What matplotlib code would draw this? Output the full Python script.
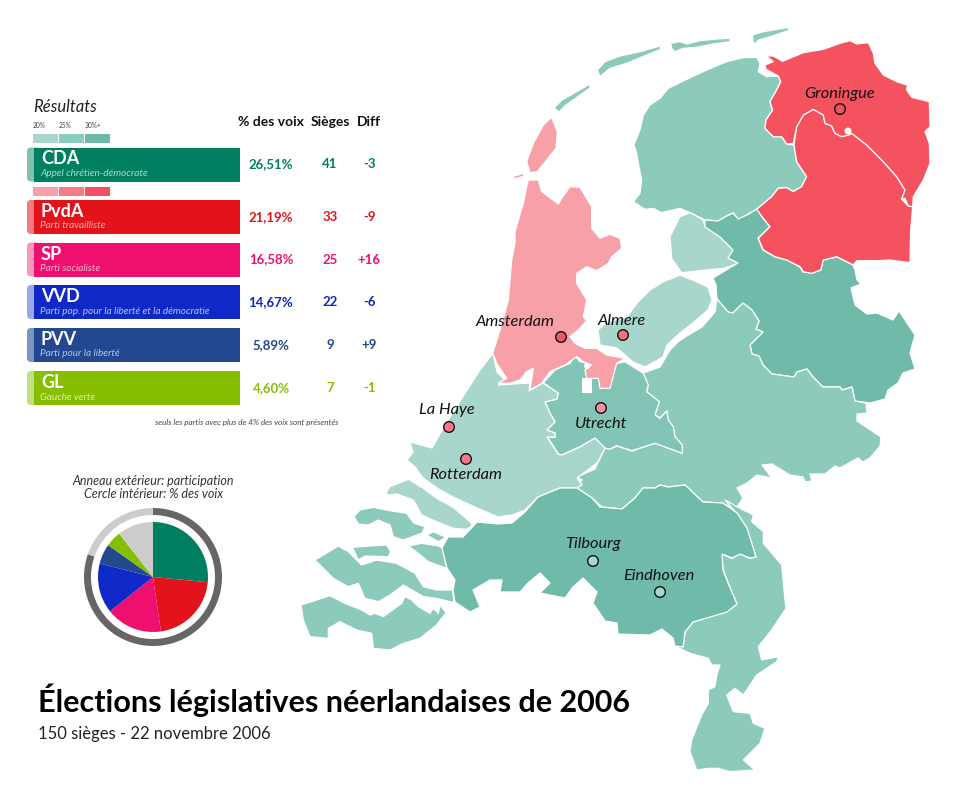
import matplotlib
matplotlib.use("Agg")
import matplotlib.pyplot as plt
from matplotlib.patches import Polygon, FancyBboxPatch, Circle, Rectangle

plt.rcParams["font.family"] = ["Lato", "DejaVu Sans"]

# party table
parties = ["CDA", "PvdA", "SP", "VVD", "PVV", "GL"]
party_names = ["Appel chrétien-démocrate", "Parti travailliste", "Parti socialiste",
               "Parti pop. pour la liberté et la démocratie", "Parti pour la liberté", "Gauche verte"]
vote_labels = ["26,51%", "21,19%", "16,58%", "14,67%", "5,89%", "4,60%"]
seats = ["41", "33", "25", "22", "9", "7"]
diffs = ["-3", "-9", "+16", "-6", "+9", "-1"]
party_colors = ["#007f60", "#e2131b", "#ef0f6e", "#1028c8", "#24488f", "#86bf00"]
stripe_colors = ["#7fc0ae", "#f27a80", "#f498be", "#9aa8e8", "#7a94c4", "#c3df80"]
sub_colors = ["#a5dccb", "#f8b0b0", "#f9b8d2", "#b8c2f4", "#b5c6e6", "#dcefa0"]
row_centers = [164.5, 217, 259.5, 302, 345, 388]

# pie and ring
vote_share = [26.51, 21.19, 16.58, 14.67, 5.89, 4.60, 10.56]
pie_colors = party_colors + ["#cccccc"]
turnout = [80.35, 19.65]

# colour scales
scale_labels = ["20%", "25%", "30%+"]
green_scale = ["#a9d6cc", "#8accbd", "#6fb9a9"]
red_scale = ["#f8a0a8", "#f57a85", "#f2525f"]

# cities: name, x, y, marker fill, label x, label y
cities = ["Groningue", "Amsterdam", "Almere", "La Haye", "Rotterdam", "Utrecht", "Tilbourg", "Eindhoven"]
city_x = [840, 561, 623, 449, 466, 601, 593, 660]
city_y = [109, 337, 335, 427, 459, 408, 561, 592]
city_fill = ["#f2525f", "#e85a6c", "#f0707d", "#fb7a8a", "#fb7a8a", "#f7919e", "#a9d6cc", "#a9d6cc"]
label_x = [840, 515, 622, 447, 466, 601, 593, 659]
label_y = [94, 322, 321, 410, 475, 424, 544, 576]


def from_zoom(ox, oy, pts):
    # outlines were read on 3x crops of the map
    return [(ox + x / 3, oy + y / 3) for x, y in pts]


GREEN_LIGHT = "#a9d6cc"
GREEN_MID = "#8ccabb"
GREEN_UTR = "#82c4b5"
GREEN_DARK = "#6fbaa9"
RED_LIGHT = "#f8a0a8"
RED_DARK = "#f4525f"

groningen = from_zoom(590, 20, [
    (528, 108), (550, 108), (578, 124), (640, 98), (700, 88), (750, 70), (780, 62), (800, 72), (835, 68),
    (850, 100), (855, 130), (880, 165), (920, 185), (950, 195), (955, 182), (950, 210), (965, 232), (1018, 245),
    (1020, 320), (1005, 335), (1018, 370), (1020, 430), (1000, 480), (970, 530), (968, 560), (955, 558),
    (945, 535), (935, 538), (945, 510), (920, 470), (880, 425), (830, 375), (785, 340), (775, 345), (755, 350),
    (735, 340), (725, 318), (705, 310), (700, 285), (670, 268), (640, 285), (620, 320), (610, 370), (590, 372),
    (575, 350), (550, 350), (525, 325), (528, 300), (548, 270), (540, 245), (560, 210), (572, 185), (565, 168),
    (528, 148), (525, 135), (550, 125)])
drenthe = from_zoom(590, 20, [
    (670, 268), (700, 285), (705, 310), (725, 318), (735, 340), (755, 350), (775, 345), (785, 340), (830, 375),
    (880, 425), (920, 470), (945, 510), (935, 538), (955, 558), (968, 560), (962, 630), (960, 728), (900, 720),
    (860, 722), (800, 722), (790, 735), (740, 710), (700, 720), (692, 750), (665, 760), (640, 755), (630, 740),
    (590, 720), (555, 710), (520, 690), (505, 655), (540, 620), (520, 595), (500, 568), (545, 530), (565, 505),
    (590, 503), (610, 515), (635, 500), (650, 470), (620, 425), (612, 375), (620, 320), (640, 285)])
friesland = from_zoom(590, 20, [
    (500, 112), (510, 130), (505, 155), (530, 170), (565, 168), (572, 185), (560, 210), (540, 245), (548, 270),
    (528, 300), (525, 325), (550, 350), (575, 350), (590, 372), (612, 375), (620, 425), (650, 470), (635, 500),
    (610, 515), (590, 503), (565, 505), (545, 530), (500, 568), (470, 585), (445, 598), (430, 578), (405, 590),
    (385, 603), (345, 600), (300, 578), (270, 565), (215, 578), (190, 565), (165, 568), (130, 545), (150, 520),
    (155, 480), (145, 430), (140, 400), (132, 375), (150, 330), (160, 285), (180, 255), (210, 235), (235, 205),
    (290, 178), (350, 150), (410, 125), (460, 113)])
terschelling = from_zoom(590, 20, [(22, 150), (45, 125), (90, 108), (150, 95), (210, 78), (212, 88), (170, 105),
                                   (110, 130), (60, 145), (30, 170)])
ameland = from_zoom(590, 20, [(242, 70), (270, 65), (290, 72), (330, 62), (380, 57), (420, 55), (420, 65),
                              (370, 72), (320, 82), (280, 85), (255, 95), (245, 85)])
schier = from_zoom(590, 20, [(487, 45), (520, 35), (598, 22), (595, 32), (540, 50), (505, 60), (492, 75)])
vlieland = [(554, 108), (562, 100), (590, 84), (590, 88), (566, 105), (559, 112)]
nop = from_zoom(590, 20, [(270, 590), (300, 578), (340, 600), (345, 620), (390, 650), (430, 690), (415, 715),
                          (445, 730), (400, 745), (330, 752), (275, 758), (245, 715), (240, 650)])
overijssel = [
    (705, 220), (718, 221), (725, 217), (733, 213), (738, 219), (747, 215), (757, 209), (763, 218), (770, 227),
    (758, 238), (763, 250), (775, 257), (787, 260), (800, 267), (803, 272), (812, 273), (821, 270), (823, 260),
    (837, 257), (853, 265), (855, 270), (857, 280), (861, 284), (851, 288), (855, 305), (867, 314), (877, 313),
    (893, 320), (899, 311), (907, 323), (915, 335), (910, 353), (915, 369), (903, 373), (898, 383), (888, 390),
    (885, 399), (870, 403), (855, 401), (852, 387), (842, 390), (840, 387), (823, 387), (813, 377), (807, 369),
    (797, 372), (794, 377), (772, 374), (763, 365), (759, 356), (752, 354), (750, 345), (763, 332), (756, 329),
    (759, 321), (752, 310), (743, 303), (733, 313), (728, 312), (717, 299), (716, 285), (713, 278), (738, 263),
    (728, 258), (733, 250), (720, 237), (705, 227)]
gelderland = [
    (717, 299), (728, 312), (733, 313), (743, 303), (752, 310), (759, 321), (756, 329), (763, 332), (750, 345),
    (752, 354), (759, 356), (763, 365), (772, 374), (794, 377), (797, 372), (807, 369), (813, 377), (823, 387),
    (840, 387), (842, 390), (852, 387), (855, 401), (866, 403), (867, 413), (857, 414), (857, 421), (881, 437),
    (880, 446), (870, 458), (863, 462), (858, 458), (840, 468), (835, 466), (825, 474), (810, 474), (812, 481),
    (805, 482), (803, 477), (790, 475), (772, 464), (762, 465), (772, 478), (757, 475), (747, 483), (737, 488),
    (743, 498), (737, 507), (725, 505), (723, 503), (703, 502), (685, 485), (668, 487), (660, 485), (655, 488),
    (643, 488), (635, 498), (622, 509), (602, 507), (592, 498), (577, 488), (582, 480), (577, 477), (595, 469),
    (605, 448), (610, 449), (617, 446), (632, 451), (655, 443), (682, 453), (682, 445), (675, 437), (673, 427),
    (668, 420), (667, 411), (660, 418), (655, 415), (659, 402), (647, 392), (648, 385), (643, 373), (660, 367),
    (670, 350), (678, 342), (685, 337), (702, 327), (715, 312)]
flevoland = [(598, 330), (607, 322), (627, 317), (637, 303), (650, 290), (663, 282), (680, 275), (697, 282),
             (708, 287), (712, 300), (708, 310), (693, 323), (680, 333), (667, 345), (663, 357), (645, 367),
             (633, 362), (617, 348), (600, 345)]
noord_holland = from_zoom(400, 100, [
    (385, 240), (415, 240), (425, 275), (475, 312), (485, 295), (510, 260), (540, 262), (575, 320), (575, 385),
    (600, 415), (630, 403), (660, 415), (665, 445), (635, 470), (625, 490), (590, 512), (560, 500), (530, 520),
    (530, 550), (560, 600), (550, 650), (560, 662), (540, 685), (510, 710), (525, 730), (555, 745), (590, 745),
    (620, 765), (675, 775), (650, 790), (630, 865), (600, 865), (595, 835), (560, 835), (555, 810), (575, 795),
    (550, 785), (530, 770), (495, 795), (450, 815), (425, 850), (390, 870), (400, 805), (380, 815), (360, 840),
    (330, 850), (295, 850), (320, 835), (290, 790), (278, 760), (300, 690), (325, 600), (335, 480), (345, 430),
    (345, 395), (370, 310), (380, 260)])
texel = from_zoom(400, 100, [(455, 52), (472, 95), (468, 145), (440, 180), (412, 215), (390, 218), (380, 185),
                             (400, 130), (430, 75)])
vlie_small = from_zoom(400, 100, [(338, 230), (370, 220), (372, 228), (345, 237)])
utrecht = from_zoom(520, 350, [
    (70, 98), (105, 60), (150, 40), (165, 18), (180, 35), (200, 40), (250, 50), (315, 35), (370, 70), (385, 105),
    (380, 125), (418, 155), (405, 195), (420, 205), (440, 183), (445, 210), (460, 230), (465, 260), (487, 285),
    (487, 310), (405, 280), (335, 302), (290, 287), (270, 297), (255, 295), (225, 265), (180, 290), (125, 315),
    (115, 312), (82, 260), (105, 262), (105, 250), (80, 240), (105, 215), (90, 190), (75, 155), (110, 148),
    (115, 130)])
zuid_holland = [
    (493, 353), (497, 372), (507, 382), (498, 385), (530, 383), (529, 391), (543, 383), (558, 393), (557, 399),
    (545, 402), (550, 413), (555, 422), (547, 430), (555, 433), (555, 437), (547, 437), (558, 454), (562, 455),
    (580, 447), (595, 438), (605, 448), (598, 462), (588, 470), (577, 478), (582, 485), (577, 488), (560, 488),
    (538, 497), (525, 510), (512, 515), (498, 517), (477, 508), (453, 497), (437, 488), (423, 478), (415, 467),
    (407, 460), (413, 452), (410, 442), (432, 448), (445, 425), (480, 370)]
goeree = from_zoom(290, 420, [(288, 218), (300, 200), (355, 178), (400, 205), (440, 235), (490, 262), (545, 310),
                              (545, 318), (530, 328), (490, 325), (440, 305), (395, 285), (370, 240), (320, 222),
                              (295, 225)])
schouwen = from_zoom(290, 420, [(192, 290), (210, 270), (250, 262), (300, 272), (350, 280), (372, 310), (405, 320),
                                (395, 340), (340, 360), (310, 350), (300, 315), (265, 300), (235, 315), (205, 312)])
tholen = from_zoom(290, 420, [(410, 345), (430, 335), (468, 352), (445, 365)])
philips = from_zoom(290, 420, [(355, 378), (395, 370), (445, 378), (458, 385), (470, 445), (415, 425), (385, 400)])
noord_bev = from_zoom(290, 420, [(187, 382), (240, 378), (290, 375), (302, 395), (295, 410), (225, 408), (205, 420)])
walcheren = from_zoom(290, 420, [
    (75, 420), (145, 378), (175, 395), (215, 435), (260, 420), (320, 430), (375, 460), (400, 500), (440, 510),
    (488, 510), (492, 548), (440, 535), (400, 530), (340, 495), (300, 525), (265, 545), (225, 535), (205, 490),
    (175, 500), (130, 475)])
vlaanderen = from_zoom(290, 420, [
    (33, 555), (120, 527), (160, 548), (215, 570), (240, 585), (255, 580), (280, 590), (335, 550), (345, 530),
    (365, 540), (385, 560), (420, 580), (430, 565), (445, 580), (450, 555), (468, 578), (440, 615), (390, 655),
    (340, 670), (300, 690), (250, 685), (245, 640), (200, 630), (150, 605), (115, 625), (115, 655), (60, 650),
    (40, 600)])
brabant = [
    (477, 522), (498, 524), (512, 523), (525, 512), (538, 497), (560, 488), (577, 488), (592, 498), (600, 507),
    (622, 509), (635, 498), (643, 488), (655, 488), (660, 485), (668, 487), (685, 485), (703, 502), (723, 503),
    (737, 513), (747, 528), (756, 557), (750, 558), (740, 554), (732, 558), (722, 554), (723, 570), (728, 583),
    (737, 604), (727, 612), (693, 622), (685, 632), (683, 647), (675, 646), (673, 638), (662, 629), (650, 635),
    (618, 634), (617, 623), (605, 621), (593, 603), (597, 592), (583, 578), (573, 587), (565, 598), (540, 593),
    (550, 583), (540, 573), (528, 583), (520, 592), (500, 592), (502, 580), (490, 580), (473, 590), (480, 607),
    (470, 612), (455, 602), (453, 590), (455, 580), (447, 568), (442, 548), (448, 537), (463, 537)]
limburg = from_zoom(580, 400, [
    (435, 300), (480, 325), (520, 345), (515, 365), (550, 395), (550, 430), (605, 495), (615, 600), (618, 625),
    (575, 690), (535, 740), (545, 780), (595, 770), (590, 785), (530, 825), (490, 885), (465, 865), (440, 885),
    (460, 935), (510, 940), (520, 970), (555, 985), (540, 1030), (490, 1080), (525, 1110), (450, 1115), (415, 1105),
    (385, 1105), (350, 1110), (330, 1055), (335, 1020), (365, 945), (385, 910), (385, 870), (405, 860), (410, 825),
    (420, 795), (395, 795), (385, 775), (330, 760), (285, 738), (310, 740), (315, 695), (340, 665), (440, 635),
    (470, 612), (445, 550), (430, 510), (425, 462), (455, 475), (480, 462), (510, 475), (528, 470), (500, 385),
    (470, 340)])

provinces = [
    (friesland, GREEN_MID), (terschelling, GREEN_MID), (ameland, GREEN_MID), (schier, GREEN_MID),
    (vlieland, GREEN_MID), (nop, GREEN_LIGHT), (overijssel, GREEN_DARK), (gelderland, GREEN_MID),
    (flevoland, GREEN_LIGHT), (utrecht, GREEN_UTR), (zuid_holland, GREEN_LIGHT), (goeree, GREEN_LIGHT),
    (noord_holland, RED_LIGHT), (texel, RED_LIGHT), (vlie_small, RED_LIGHT),
    (schouwen, GREEN_MID), (tholen, GREEN_MID), (philips, GREEN_MID), (noord_bev, GREEN_MID),
    (walcheren, GREEN_MID), (vlaanderen, GREEN_MID), (limburg, GREEN_MID), (brabant, GREEN_DARK),
    (drenthe, RED_DARK), (groningen, RED_DARK),
]

fig = plt.figure(figsize=(9.6, 8.02), dpi=100)
ax = fig.add_axes([0, 0, 1, 1])
ax.set_xlim(0, 960)
ax.set_ylim(802, 0)
ax.axis("off")

# map
for outline, color in provinces:
    ax.add_patch(Polygon(outline, closed=True, facecolor=color, edgecolor="white", linewidth=0.9, joinstyle="round"))
ax.add_patch(Rectangle((582, 378), 10, 15, facecolor="white", edgecolor="none", zorder=2))
ax.add_patch(Circle((587, 366), 3, facecolor="white", edgecolor="none", zorder=2))
ax.add_patch(Circle((848, 131), 3.5, facecolor="white", edgecolor="none", zorder=2))

for i, city in enumerate(cities):
    ax.add_patch(Circle((city_x[i], city_y[i]), 5.3, facecolor=city_fill[i], edgecolor="#111111",
                        linewidth=1.0, zorder=3))
    ax.text(label_x[i], label_y[i], city, style="italic", fontsize=11.8, color="#111111",
            ha="center", va="center", zorder=4)

# legend block
ax.text(33, 107, "Résultats", style="italic", fontsize=12, color="#222222", va="center")
for i in range(3):
    ax.text(33 + i * 26, 125, scale_labels[i], fontsize=4.8, color="#444444", va="center")
    ax.barh(138.5, 25, left=33 + i * 26, height=9, color=green_scale[i])
    ax.barh(191, 25, left=33 + i * 26, height=9, color=red_scale[i])

ax.text(271, 122, "% des voix", fontsize=10, fontweight="bold", color="#111111", ha="center", va="center")
ax.text(330, 122, "Sièges", fontsize=10, fontweight="bold", color="#111111", ha="center", va="center")
ax.text(369, 122, "Diff", fontsize=10, fontweight="bold", color="#111111", ha="center", va="center")

for i, party in enumerate(parties):
    yc = row_centers[i]
    ax.add_patch(FancyBboxPatch((27, yc - 17), 14, 34, boxstyle="round,pad=0,rounding_size=4",
                                facecolor=stripe_colors[i], edgecolor="none"))
    ax.barh(yc, 206, left=34, height=34, color=party_colors[i])
    ax.text(41, yc - 5.5, party, fontsize=13, fontweight="bold", color="white", va="center")
    ax.text(40.5, yc + 9, party_names[i], fontsize=7.2, style="italic", color=sub_colors[i], va="center")
    ax.text(271, yc, vote_labels[i], fontsize=9.5, fontweight="bold", color=party_colors[i], ha="center", va="center")
    ax.text(330, yc, seats[i], fontsize=9.5, fontweight="bold", color=party_colors[i], ha="center", va="center")
    ax.text(369, yc, diffs[i], fontsize=9.5, fontweight="bold", color=party_colors[i], ha="center", va="center")

ax.text(247, 422.5, "seuls les partis avec plus de 4% des voix sont présentés", fontsize=5.9, style="italic",
        color="#444444", ha="center", va="center")

ax.text(153, 481, "Anneau extérieur: participation", fontsize=9, style="italic", color="#333333",
        ha="center", va="center")
ax.text(153, 494, "Cercle intérieur: % des voix", fontsize=9, style="italic", color="#333333",
        ha="center", va="center")

# pie with turnout ring, in its own axes
pie_ax = fig.add_axes([(153 - 72) / 960, 1 - (577 + 72) / 802, 144 / 960, 144 / 802])
pie_ax.pie(turnout, radius=69, startangle=90, counterclock=False, colors=["#666666", "#cccccc"],
           wedgeprops={"width": 7, "linewidth": 0})
pie_ax.pie(vote_share, radius=55, startangle=90, counterclock=False, colors=pie_colors,
           wedgeprops={"linewidth": 0})
pie_ax.set_xlim(-72, 72)
pie_ax.set_ylim(-72, 72)
pie_ax.set_aspect("equal")

# title
ax.text(38, 700, "Élections législatives néerlandaises de 2006", fontsize=22, fontweight="bold",
        color="black", va="center")
ax.text(38, 734, "150 sièges - 22 novembre 2006", fontsize=12, color="#222222", va="center")

plt.savefig("out.png", dpi=100)
